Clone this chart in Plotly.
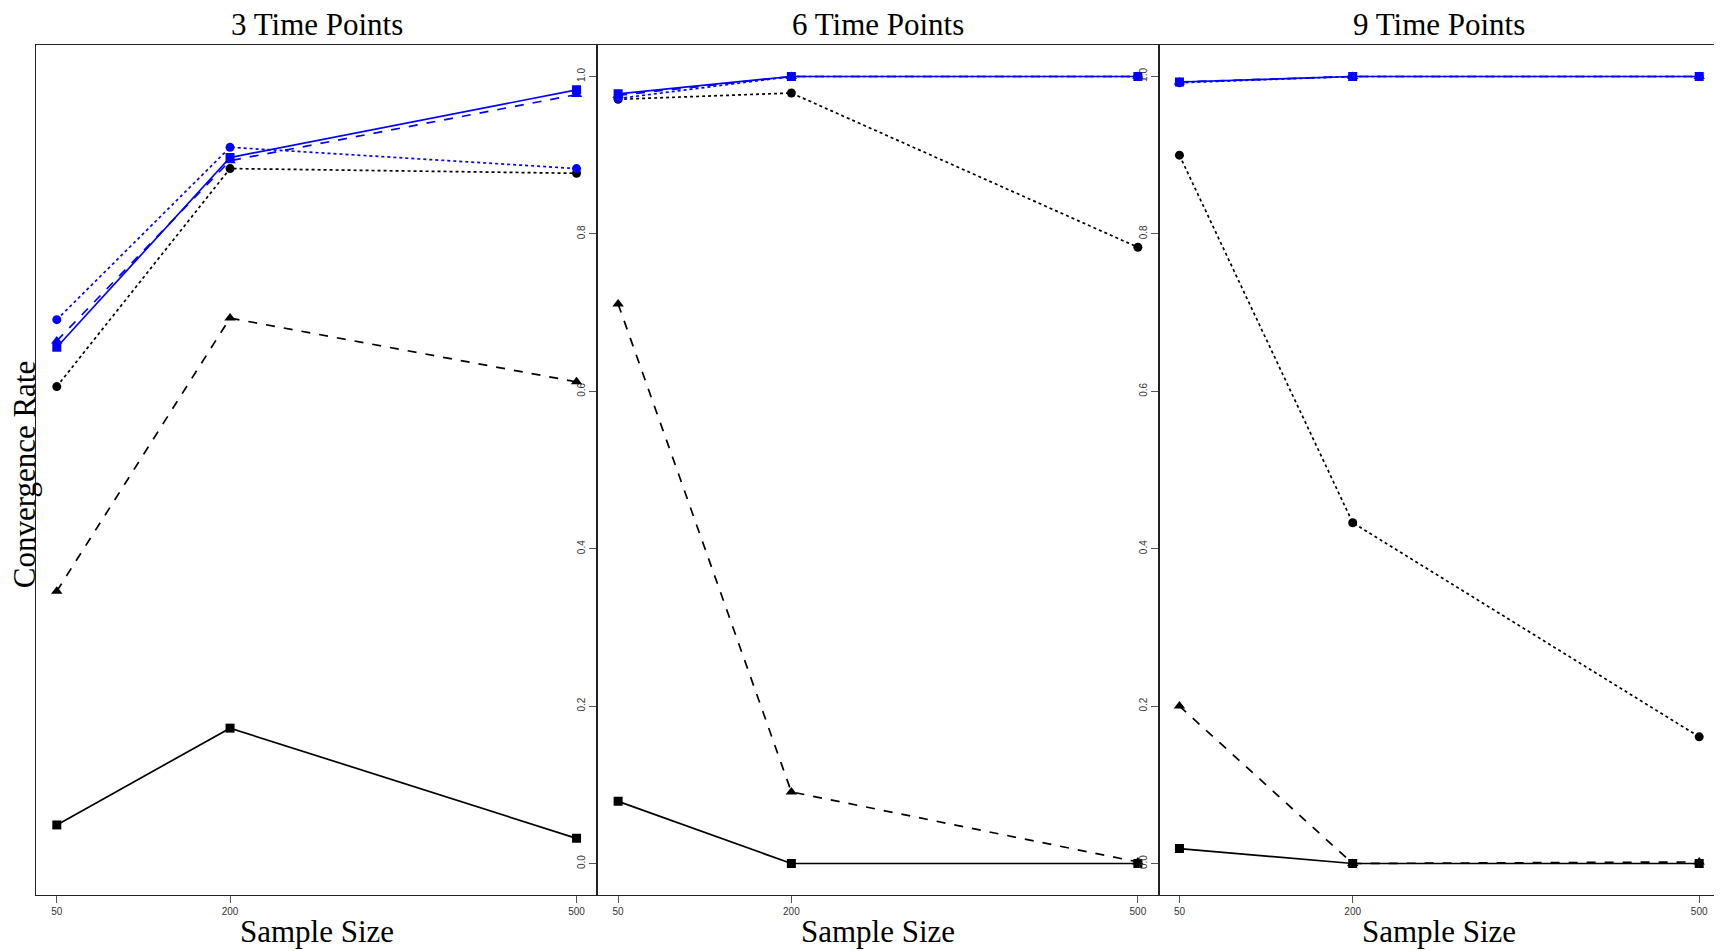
import plotly.graph_objects as go
from plotly.subplots import make_subplots

sample_sizes = [50, 200, 500]
panel_titles = ["3 Time Points", "6 Time Points", "9 Time Points"]

# panel 1: 3 time points
p1_black_solid = [0.049, 0.172, 0.032]
p1_black_dash = [0.346, 0.693, 0.612]
p1_black_dot = [0.606, 0.883, 0.877]
p1_blue_solid = [0.656, 0.897, 0.983]
p1_blue_dash = [0.664, 0.893, 0.977]
p1_blue_dot = [0.691, 0.910, 0.883]

# panel 2: 6 time points
p2_black_solid = [0.079, 0.0, 0.0]
p2_black_dash = [0.711, 0.091, 0.002]
p2_black_dot = [0.971, 0.979, 0.783]
p2_blue_solid = [0.978, 1.0, 1.0]
p2_blue_dash = [0.976, 1.0, 1.0]
p2_blue_dot = [0.972, 1.0, 1.0]

# panel 3: 9 time points
p3_black_solid = [0.019, 0.0, 0.0]
p3_black_dash = [0.200, 0.0, 0.002]
p3_black_dot = [0.900, 0.433, 0.161]
p3_blue_solid = [0.993, 1.0, 1.0]
p3_blue_dash = [0.993, 1.0, 1.0]
p3_blue_dot = [0.992, 1.0, 1.0]

y_ticks = [0.0, 0.2, 0.4, 0.6, 0.8, 1.0]

panels = [
    [p1_black_solid, p1_black_dash, p1_black_dot, p1_blue_solid, p1_blue_dash, p1_blue_dot],
    [p2_black_solid, p2_black_dash, p2_black_dot, p2_blue_solid, p2_blue_dash, p2_blue_dot],
    [p3_black_solid, p3_black_dash, p3_black_dot, p3_blue_solid, p3_blue_dash, p3_blue_dot],
]
styles = [
    ("#000000", "solid", "square", 9),
    ("#000000", "dash", "triangle-up", 10),
    ("#000000", "dot", "circle", 9),
    ("#0000FF", "solid", "square", 9),
    ("#0000FF", "dash", "triangle-up", 10),
    ("#0000FF", "dot", "circle", 9),
]

fig = make_subplots(rows=1, cols=3, horizontal_spacing=0)

for c, series in enumerate(panels, start=1):
    for vals, (col, dash, sym, sz) in zip(series, styles):
        fig.add_trace(
            go.Scatter(
                x=sample_sizes, y=vals, mode="lines+markers",
                line=dict(color=col, dash=dash, width=1.7),
                marker=dict(symbol=sym, size=sz, color=col),
                showlegend=False, hoverinfo="x+y",
            ),
            row=1, col=c,
        )

tickfont = dict(family="Arial, Liberation Sans, sans-serif", size=10, color="#333333")
for c in range(1, 4):
    fig.update_xaxes(
        row=1, col=c, range=[32, 518], tickvals=sample_sizes,
        ticktext=[str(s) for s in sample_sizes], ticks="outside", ticklen=7,
        tickcolor="#555555", tickfont=tickfont, showgrid=False, zeroline=False,
        showline=True, mirror=True, linecolor="#222222", linewidth=1.3,
    )
    fig.update_yaxes(
        row=1, col=c, range=[-0.04, 1.04], tickvals=y_ticks,
        tickformat=".1f", ticks="outside" if c > 1 else "", ticklen=7,
        showticklabels=(c > 1), tickangle=-90, tickcolor="#555555",
        tickfont=tickfont, showgrid=False, zeroline=False,
        showline=True, mirror=True, linecolor="#222222", linewidth=1.3,
    )

serif = "Liberation Serif, Times New Roman, serif"
annotations = []
for i, t in enumerate(panel_titles):
    xc = (i + 0.5) / 3
    annotations.append(dict(text=t, x=xc, y=1.0247, xref="paper", yref="paper",
                            xanchor="center", yanchor="middle", showarrow=False,
                            font=dict(family=serif, size=31, color="#000000")))
    annotations.append(dict(text="Sample Size", x=xc, y=-0.0424, xref="paper", yref="paper",
                            xanchor="center", yanchor="middle", showarrow=False,
                            font=dict(family=serif, size=31, color="#000000")))
annotations.append(dict(text="Convergence Rate", x=-0.0071, y=0.495, xref="paper", yref="paper",
                        xanchor="center", yanchor="middle", textangle=-90, showarrow=False,
                        font=dict(family=serif, size=31, color="#000000")))

# page body adds an 8px offset; shrink the figure and margins to compensate
fig.update_layout(
    width=1714, height=943,
    margin=dict(l=28, r=2, t=37, b=56),
    paper_bgcolor="white", plot_bgcolor="white",
    annotations=annotations,
)

fig.write_html("out.html")
